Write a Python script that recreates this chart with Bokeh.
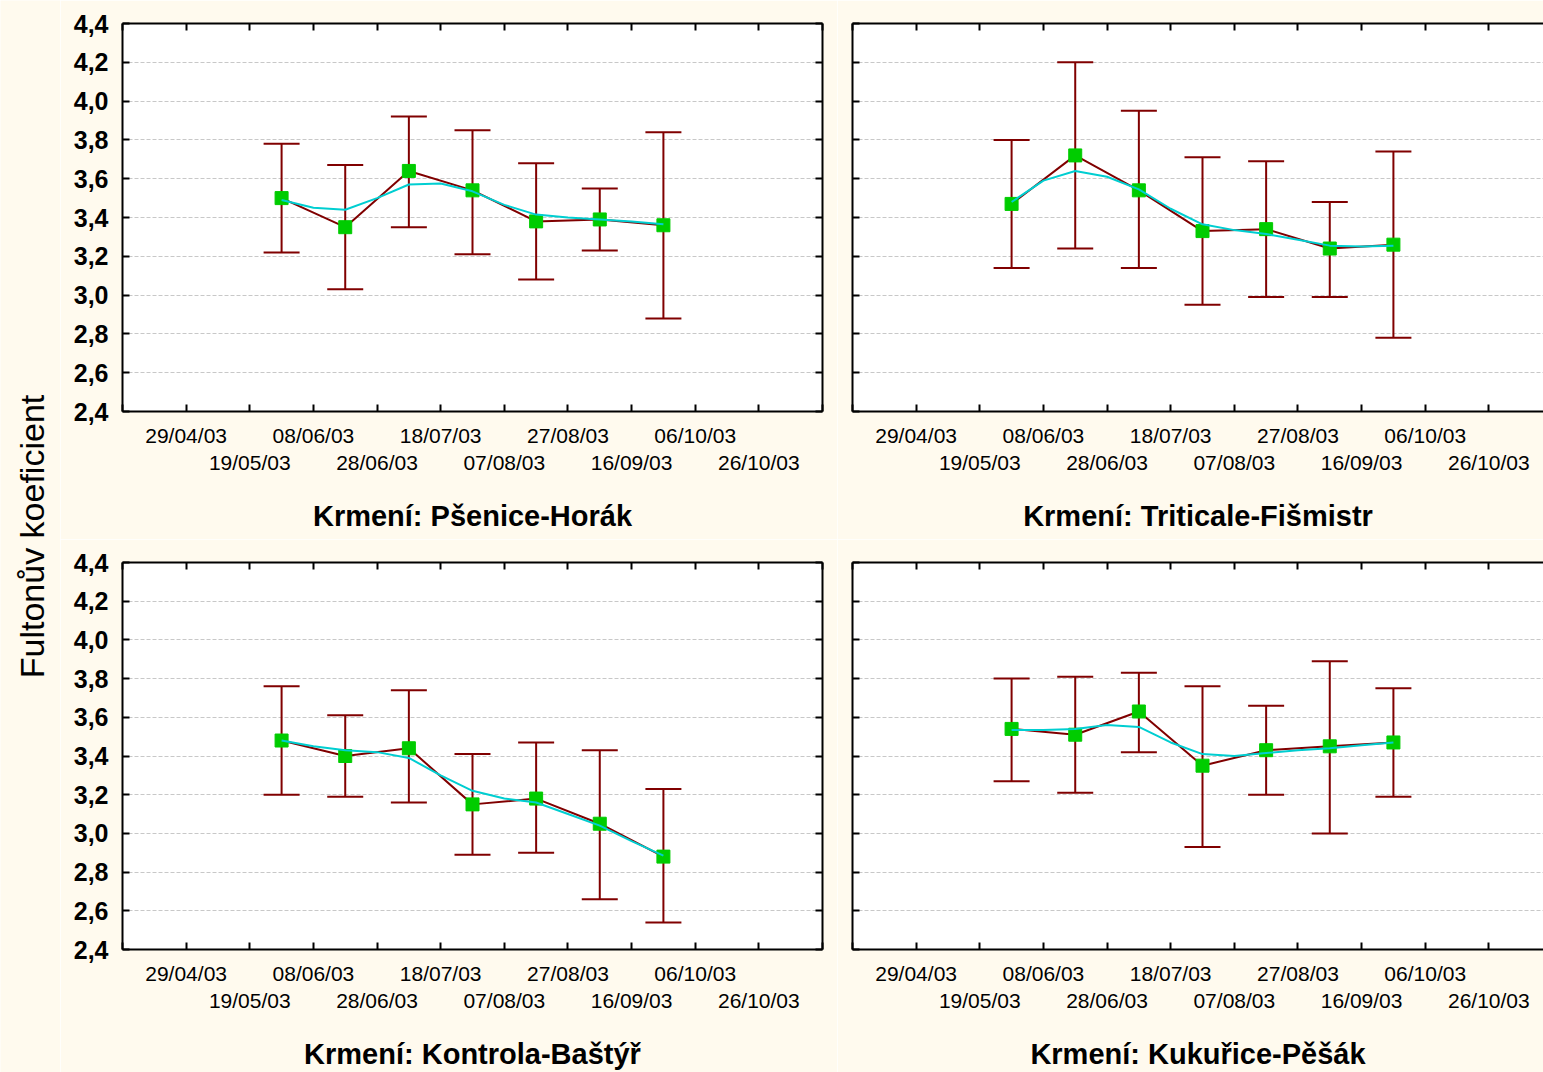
import math
from datetime import datetime, timedelta
from bokeh.plotting import figure
from bokeh.models import (Range1d, LinearAxis, FixedTicker, CustomJSTickFormatter,
                          Whisker, TeeHead, ColumnDataSource, Label, Grid)
from bokeh.layouts import row, column
from bokeh.embed import file_html
from bokeh.resources import INLINE

# ---------------- data ----------------
sample_dates = ["29/05/03", "18/06/03", "08/07/03", "28/07/03", "17/08/03", "06/09/03", "26/09/03"]
fit_dates = ["29/05/03", "08/06/03", "18/06/03", "28/06/03", "08/07/03", "18/07/03", "28/07/03",
             "07/08/03", "17/08/03", "27/08/03", "06/09/03", "16/09/03", "26/09/03"]

tick_labels_row1 = ["29/04/03", "08/06/03", "18/07/03", "27/08/03", "06/10/03"]
tick_labels_row2 = ["19/05/03", "28/06/03", "07/08/03", "16/09/03", "26/10/03"]
edge_ticks = ["09/04/03", "15/11/03"]
y_ticks = [2.4, 2.6, 2.8, 3.0, 3.2, 3.4, 3.6, 3.8, 4.0, 4.2, 4.4]

y_axis_title = "Fultonův koeficient"

title_psenice = "Krmení: Pšenice-Horák"
mean_psenice = [3.50, 3.35, 3.64, 3.54, 3.38, 3.39, 3.36]
upper_psenice = [3.78, 3.67, 3.92, 3.85, 3.68, 3.55, 3.84]
lower_psenice = [3.22, 3.03, 3.35, 3.21, 3.08, 3.23, 2.88]
fit_psenice = [3.49, 3.45, 3.44, 3.50, 3.57, 3.575, 3.535, 3.465, 3.415, 3.40, 3.39, 3.38, 3.365]

title_triticale = "Krmení: Triticale-Fišmistr"
mean_triticale = [3.47, 3.72, 3.54, 3.33, 3.34, 3.24, 3.26]
upper_triticale = [3.80, 4.20, 3.95, 3.71, 3.69, 3.48, 3.74]
lower_triticale = [3.14, 3.24, 3.14, 2.95, 2.99, 2.99, 2.78]
fit_triticale = [3.48, 3.59, 3.64, 3.61, 3.545, 3.445, 3.365, 3.335, 3.315, 3.285, 3.255, 3.25, 3.255]

title_kontrola = "Krmení: Kontrola-Baštýř"
mean_kontrola = [3.48, 3.40, 3.44, 3.15, 3.18, 3.05, 2.88]
upper_kontrola = [3.76, 3.61, 3.74, 3.41, 3.47, 3.43, 3.23]
lower_kontrola = [3.20, 3.19, 3.16, 2.89, 2.90, 2.66, 2.54]
fit_kontrola = [3.48, 3.45, 3.43, 3.42, 3.39, 3.30, 3.22, 3.18, 3.16, 3.10, 3.04, 2.96, 2.885]

title_kukurice = "Krmení: Kukuřice-Pěšák"
mean_kukurice = [3.54, 3.51, 3.63, 3.35, 3.43, 3.45, 3.47]
upper_kukurice = [3.80, 3.81, 3.83, 3.76, 3.66, 3.89, 3.75]
lower_kukurice = [3.27, 3.21, 3.42, 2.93, 3.20, 3.00, 3.19]
fit_kukurice = [3.535, 3.535, 3.54, 3.56, 3.55, 3.47, 3.41, 3.40, 3.415, 3.43, 3.44, 3.455, 3.47]

# ---------------- styling ----------------
BG = "#FFFAEE"
RED = "#800000"
GREEN = "#00CC00"
CYAN = "#00CED1"
FONT = "Liberation Sans"
EPOCH = datetime(1970, 1, 1)


def d(s):
    return datetime.strptime(s, "%d/%m/%y")


def ms(s):
    return (d(s) - EPOCH).total_seconds() * 1000.0


X_START = d(edge_ticks[0])
X_END = d(edge_ticks[1])

DATE_FMT = CustomJSTickFormatter(code="""
const dt = new Date(tick);
const p = (n) => String(n).padStart(2, '0');
return p(dt.getUTCDate()) + '/' + p(dt.getUTCMonth() + 1) + '/' + p(dt.getUTCFullYear() % 100);
""")
Y_FMT = CustomJSTickFormatter(code="return tick.toFixed(1).replace('.', ',');")


def blank():
    return CustomJSTickFormatter(code="return '';")


def edge_axis(ax):
    ax.axis_line_color = "black"
    ax.axis_line_width = 2
    ax.major_tick_in = 7
    ax.major_tick_out = 0
    ax.major_tick_line_color = "black"
    ax.major_tick_line_width = 2
    ax.minor_tick_in = 7
    ax.minor_tick_out = 0
    ax.minor_tick_line_color = "black"
    ax.minor_tick_line_width = 2


def panel(title, mean, upper, lower, fit, left_col, top_row):
    w = 777 if left_col else 706
    h = 539 if top_row else 533
    frame_h = 388 if top_row else 387
    if left_col:
        x_end = X_END
    else:
        x_end = X_START + timedelta(days=220 * 691 / 700)
    p = figure(width=w, height=h, x_range=Range1d(X_START, x_end), y_range=Range1d(2.4, 4.4),
               output_backend="svg", toolbar_location=None,
               x_axis_location=None, y_axis_location=None,
               min_border_left=62 if left_col else 15,
               min_border_right=15 if left_col else 0,
               min_border_top=23, min_border_bottom=h - 23 - frame_h,
               background_fill_color="white", border_fill_color=BG,
               outline_line_color=None)
    p.grid.visible = False
    p.add_layout(Grid(dimension=1, ticker=FixedTicker(ticks=y_ticks[1:-1]),
                      grid_line_color="#C8C8C8", grid_line_dash="4 2", grid_line_width=1))

    all_x = [ms(s) for s in edge_ticks[:1] + sorted(tick_labels_row1 + tick_labels_row2, key=d) + edge_ticks[1:]]

    # left axis
    la = LinearAxis(ticker=FixedTicker(ticks=y_ticks), formatter=Y_FMT if left_col else blank())
    edge_axis(la)
    la.major_label_standoff = 14
    la.major_label_text_font = FONT
    la.major_label_text_font_size = "25px"
    la.major_label_text_font_style = "bold"
    la.major_label_text_color = "black"
    p.add_layout(la, "left")
    if left_col:
        ra = LinearAxis(ticker=FixedTicker(ticks=y_ticks), formatter=blank())
        edge_axis(ra)
        p.add_layout(ra, "right")
    # top axis
    ta = LinearAxis(ticker=FixedTicker(ticks=all_x), formatter=blank())
    edge_axis(ta)
    p.add_layout(ta, "above")
    # bottom axes (two rows of labels)
    b1 = LinearAxis(ticker=FixedTicker(ticks=[ms(s) for s in tick_labels_row1],
                                       minor_ticks=[ms(s) for s in tick_labels_row2 + edge_ticks]),
                    formatter=DATE_FMT)
    edge_axis(b1)
    b1.major_label_standoff = 12
    b1.major_label_text_font = FONT
    b1.major_label_text_font_size = "21px"
    b1.major_label_text_color = "black"
    p.add_layout(b1, "below")
    b2 = LinearAxis(ticker=FixedTicker(ticks=[ms(s) for s in tick_labels_row2]), formatter=DATE_FMT)
    b2.axis_line_color = None
    b2.major_tick_line_color = None
    b2.minor_tick_line_color = None
    b2.major_tick_in = 0
    b2.major_tick_out = 0
    b2.major_label_standoff = 1
    b2.major_label_text_font = FONT
    b2.major_label_text_font_size = "21px"
    b2.major_label_text_color = "black"
    b2.axis_label = title
    b2.axis_label_standoff = 23
    b2.axis_label_text_font = FONT
    b2.axis_label_text_font_size = "29px"
    b2.axis_label_text_font_style = "bold"
    b2.axis_label_text_color = "black"
    p.add_layout(b2, "below")

    xs = [d(s) for s in sample_dates]
    src = ColumnDataSource(dict(x=xs, mean=mean, upper=upper, lower=lower))
    wh = Whisker(source=src, base="x", upper="upper", lower="lower", dimension="height",
                 line_color=RED, line_width=2,
                 upper_head=TeeHead(size=36, line_color=RED, line_width=2),
                 lower_head=TeeHead(size=36, line_color=RED, line_width=2))
    p.add_layout(wh)
    p.line("x", "mean", source=src, line_color=RED, line_width=2)
    p.scatter("x", "mean", source=src, marker="square", size=13,
              fill_color=GREEN, line_color=GREEN)
    p.line([d(s) for s in fit_dates], fit, line_color=CYAN, line_width=2)
    return p


tl = panel(title_psenice, mean_psenice, upper_psenice, lower_psenice, fit_psenice, True, True)
tr = panel(title_triticale, mean_triticale, upper_triticale, lower_triticale, fit_triticale, False, True)
bl = panel(title_kontrola, mean_kontrola, upper_kontrola, lower_kontrola, fit_kontrola, True, False)
br = panel(title_kukurice, mean_kukurice, upper_kukurice, lower_kukurice, fit_kukurice, False, False)

lab = figure(width=60, height=1072, x_range=Range1d(0, 1), y_range=Range1d(0, 1),
             output_backend="svg", toolbar_location=None, min_border=0,
             x_axis_location=None, y_axis_location=None, outline_line_color=None,
             background_fill_color=BG, border_fill_color=BG)
lab.grid.visible = False
lab.add_layout(Label(x=0.52, y=0.5, text=y_axis_title, angle=math.pi / 2,
                     text_align="center", text_baseline="middle",
                     text_font_size="34px", text_font=FONT, text_color="black"))

layout = row(lab, column(row(tl, tr), row(bl, br)))
open("out.html", "w").write(file_html(layout, INLINE))
